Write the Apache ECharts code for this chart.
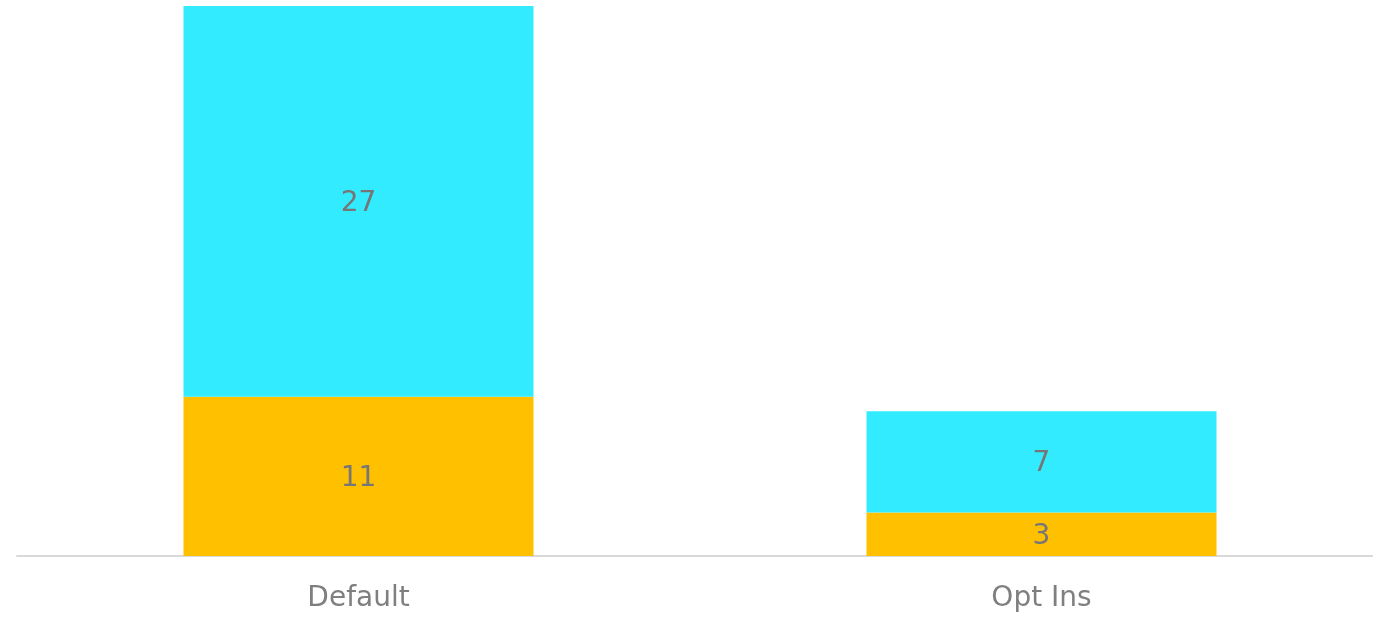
<!DOCTYPE html>
<html>
<head>
<meta charset="utf-8">
<script src="https://cdn.jsdelivr.net/npm/echarts@6/dist/echarts.min.js"></script>
<style>
  html, body { margin: 0; padding: 0; background: #fff; }
  #chart { width: 1373px; height: 617px; }
</style>
</head>
<body>
<div id="chart"></div>
<script>
// data
const categories = ['Default', 'Opt Ins'];
const lowerValues = [11, 3];   // orange, bottom
const upperValues = [27, 7];   // cyan, top

const labelStyle = {
  show: true,
  position: 'inside',
  color: '#767676',
  fontFamily: 'DejaVu Sans',
  fontSize: 28,
  offset: [0, 2]
};

const chart = echarts.init(document.getElementById('chart'));
chart.setOption({
  animation: false,
  grid: {
    left: 17, top: 6, width: 1366, bottom: 61,
    containLabel: false,
    outerBoundsMode: 'none'
  },
  xAxis: {
    type: 'category',
    data: categories,
    axisLine: { lineStyle: { color: '#d9d9d9', width: 2 } },
    axisTick: { show: false },
    axisLabel: {
      color: '#7f7f7f',
      fontFamily: 'DejaVu Sans',
      fontSize: 28,
      margin: 29
    }
  },
  yAxis: {
    type: 'value',
    min: 0,
    max: 38,
    show: false,
    splitLine: { show: false }
  },
  series: [
    {
      name: 'lower',
      type: 'bar',
      stack: 'total',
      barWidth: 350,
      data: lowerValues,
      itemStyle: { color: '#FFC000' },
      label: labelStyle
    },
    {
      name: 'upper',
      type: 'bar',
      stack: 'total',
      barWidth: 350,
      data: upperValues,
      itemStyle: { color: '#33EBFF' },
      label: labelStyle
    }
  ]
});
</script>
</body>
</html>
